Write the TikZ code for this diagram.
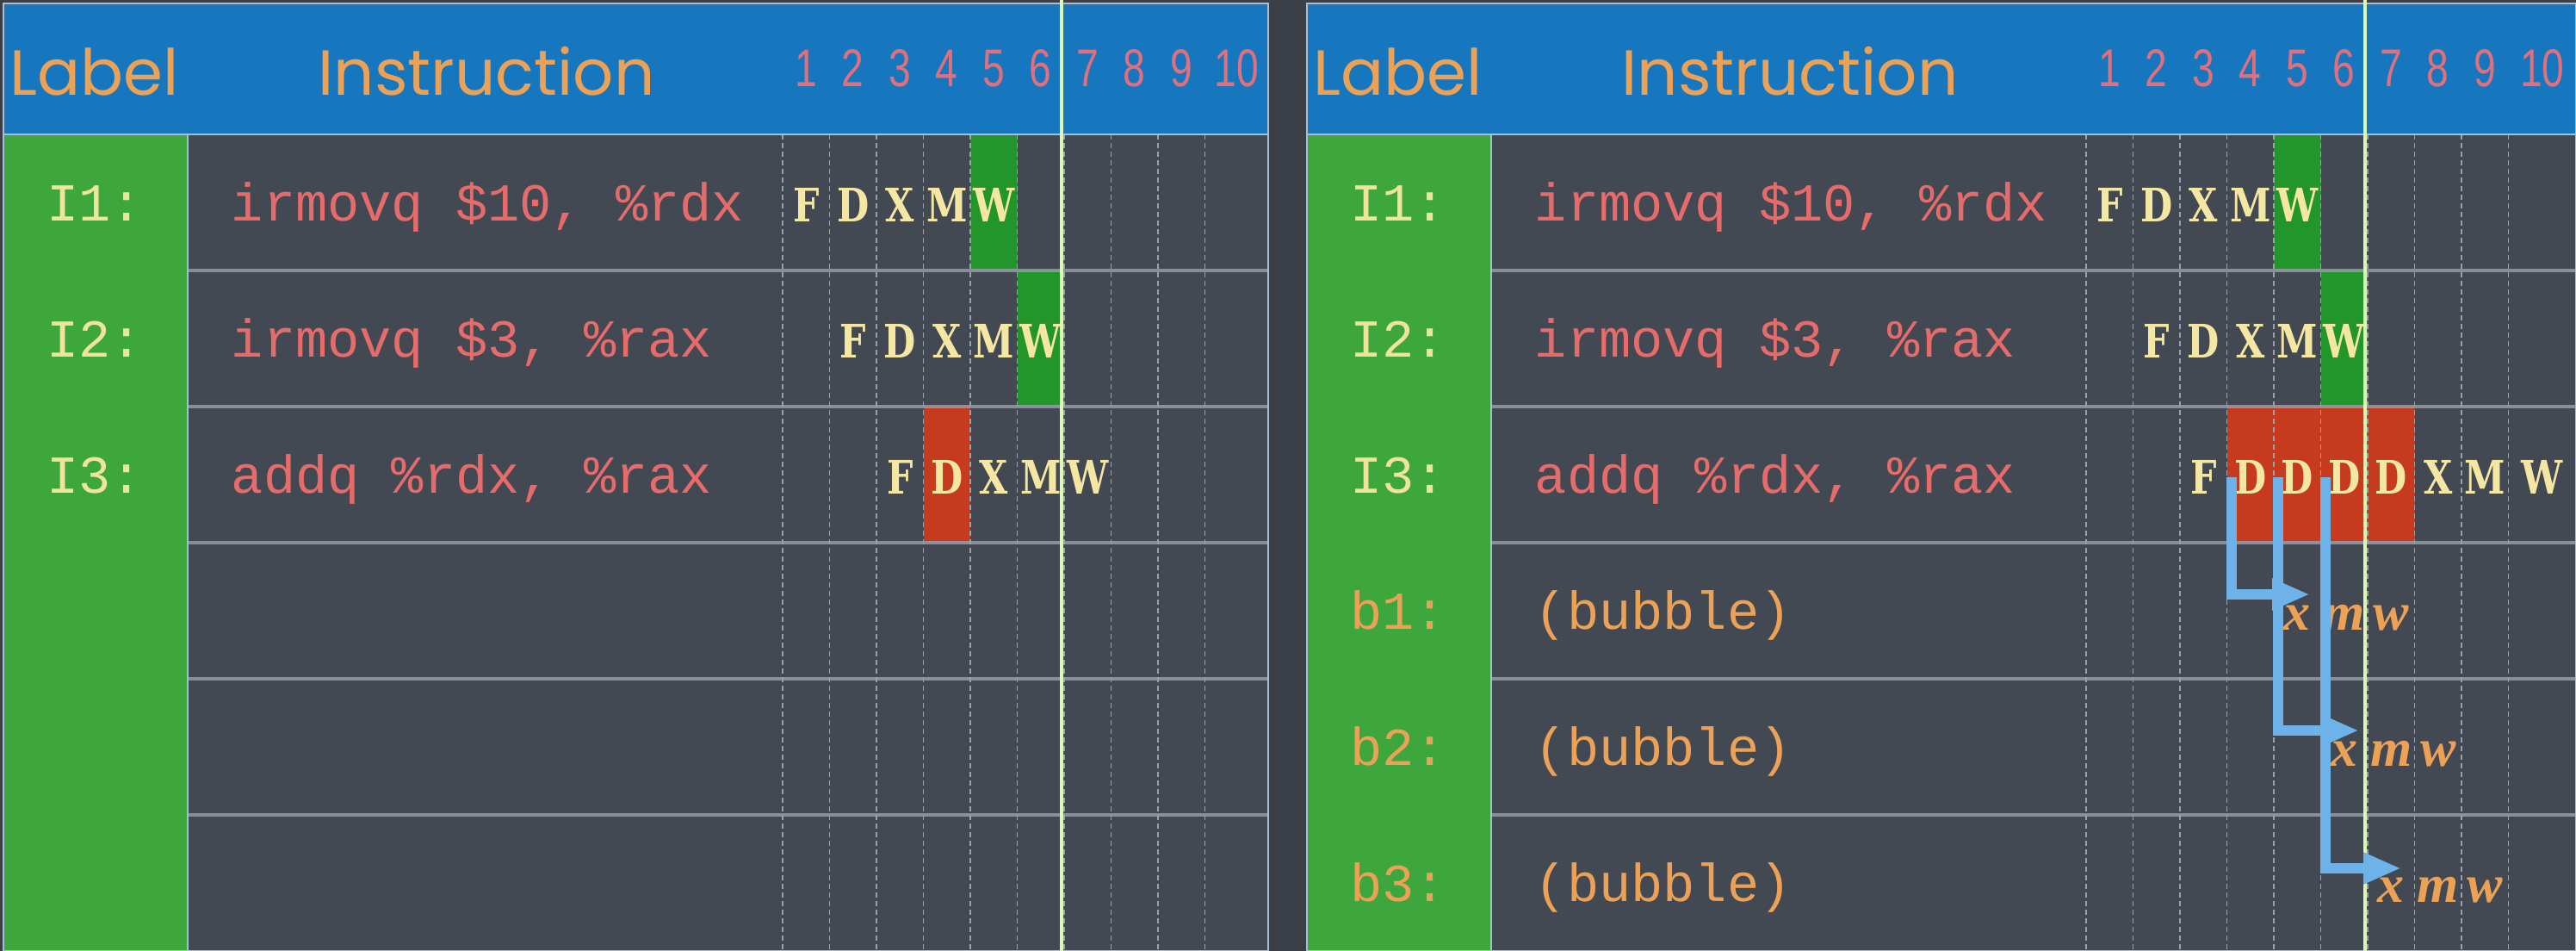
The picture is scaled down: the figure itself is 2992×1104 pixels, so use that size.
\documentclass[tikz,border=0pt]{standalone}
\usepackage{fontspec}
\setmainfont{Liberation Serif}
\newfontfamily\headfont{Poppins}
\newfontfamily\numfont[FakeStretch=0.75]{Liberation Sans}
\newfontfamily\stagefont[FakeStretch=0.8]{DejaVu Serif}
\newfontfamily\codefont{Liberation Mono}
\usetikzlibrary{arrows.meta,positioning}

\definecolor{backdrop}{HTML}{3A3F48}
\definecolor{boardgray}{HTML}{434953}
\definecolor{headblue}{HTML}{1676BE}
\definecolor{labelgreen}{HTML}{3DA63C}
\definecolor{wgreen}{HTML}{22962A}
\definecolor{dred}{HTML}{C63A1E}
\definecolor{flowblue}{HTML}{6DB3EA}
\definecolor{stageyellow}{HTML}{F4E6A3}
\definecolor{codered}{HTML}{E66B6B}
\definecolor{headorange}{HTML}{EBA257}
\definecolor{bubbleorange}{HTML}{EBA257}
\definecolor{numpink}{HTML}{E0707E}
\definecolor{tagyellow}{HTML}{EFE49A}
\definecolor{nowgreen}{HTML}{DDF7B4}
\definecolor{gridgray}{HTML}{9BA1AA}
\definecolor{rimblue}{HTML}{A9BED2}

\tikzset{
  rowline/.style={draw=gridgray, line width=0.9pt, opacity=0.8},
  colline/.style={draw=gridgray, line width=0.45pt, dash pattern=on 1.5pt off 1pt},
  panelrim/.style={draw=rimblue, line width=0.6pt},
  nowline/.style={draw=nowgreen, line width=1.2pt},
  headtext/.style={text=headorange, inner sep=0pt, font=\headfont\fontsize{18.5}{20}\selectfont, text height=13pt, text depth=0pt},
  cyclenum/.style={text=numpink, inner sep=0pt, font=\numfont\fontsize{15.4}{17}\selectfont, text height=11pt, text depth=0pt},
  labeltext/.style={text=tagyellow, inner sep=0pt, font=\codefont\fontsize{15.5}{17}\selectfont, text height=8.6pt, text depth=0pt},
  instrtext/.style={text=codered, anchor=west, inner sep=0pt, font=\codefont\fontsize{15.5}{17}\selectfont, text height=8.6pt, text depth=0pt},
  stagetext/.style={text=stageyellow, inner sep=0pt, minimum width=13.625pt, font=\stagefont\bfseries\fontsize{13.4}{15}\selectfont, text height=9.8pt, text depth=0pt},
  latetext/.style={text=bubbleorange, inner sep=0pt, font=\bfseries\itshape\fontsize{15.5}{17}\selectfont, text height=7.1pt, text depth=0pt},
  flowarrow/.style={draw=flowblue, line width=2.9pt, -{Triangle[length=11pt,width=8.5pt]}}
}

\begin{document}
\begin{tikzpicture}[x=0.25pt,y=-0.25pt]
\useasboundingbox[fill=backdrop] (0,0) rectangle (2992,1104);

% the two tables
\foreach \p/\s/\e/\ra/\rb in {l/0/1473/4/4, r/1514/1478/4/7} {
\begin{scope}[shift={(\s,0)}]
\fill[boardgray] (4,4) rectangle (\e,1104);
\fill[headblue] (4,4) rectangle (\e,156);
\fill[labelgreen] (4,156) rectangle (218,1104);
% highlighted cells
\fill[wgreen] (1127,156) rectangle (1181.5,314);
\fill[wgreen] (1181.5,314) rectangle (1236,472);
\fill[dred] ({909+54.5*(\ra-1)},472) rectangle ({909+54.5*\rb},630);
% grid
\foreach \y in {314,472,630,788,946}
  \draw[rowline] (218,\y) -- (\e,\y);
\foreach \k in {0,...,9}
  \draw[colline] ({909+54.5*\k},156) -- ({909+54.5*\k},1104);
\draw[panelrim] (218,156) -- (218,1104);
\draw[panelrim] (4,156) -- (\e,156);
\draw[panelrim] (4,4) rectangle (\e,1104);
\draw[nowline] (1233,0) -- (1233,1104);
% header
\node[headtext] (\p-label) at (110,84) {Label};
\node[headtext] (\p-instr) at (565,84) {Instruction};
\foreach \k in {1,...,9}
  \node[cyclenum] (\p-n\k) at ({881.75+54.5*\k},78) {\k};
\node[cyclenum] (\p-n10) at ({(1399.5+\e)/2},78) {10};
% instructions
\node[labeltext] (\p-I1) at (110,239) {I1:};
\node[labeltext] (\p-I2) at (110,397) {I2:};
\node[labeltext] (\p-I3) at (110,555) {I3:};
\node[instrtext] (\p-c1) at (268,239) {irmovq \$10, \%rdx};
\node[instrtext] (\p-c2) at (268,397) {irmovq \$3, \%rax};
\node[instrtext] (\p-c3) at (268,555) {addq \%rdx, \%rax};
\foreach \k/\st in {1/F,2/D,3/X,4/M,5/W}
  \node[stagetext] (\p-a\k) at ({881.75+54.5*\k},238) {\st};
\foreach \k/\st in {2/F,3/D,4/X,5/M,6/W}
  \node[stagetext] (\p-b\k) at ({881.75+54.5*\k},396) {\st};
\end{scope}
}

% left: no stall
\foreach \k/\st in {3/F,4/D,5/X,6/M,7/W}
  \node[stagetext] (l-c\k) at ({881.75+54.5*\k},554) {\st};

% right: stalled with bubbles
\begin{scope}[shift={(1514,0)}]
\foreach \k/\st in {3/F,4/D,5/D,6/D,7/D,8/X,9/M}
  \node[stagetext] (r-c\k) at ({881.75+54.5*\k},554) {\st};
\node[stagetext] (r-c10) at (1438.75,554) {W};
\foreach \i/\y in {1/713,2/871,3/1029} {
  \node[labeltext,text=bubbleorange] (r-bl\i) at (110,\y) {b\i:};
  \node[instrtext,text=bubbleorange] (r-bc\i) at (268,\y) {(bubble)};
}
\foreach \i/\k/\y in {1/5/717,2/6/875,3/7/1033}
  \foreach \j/\st in {0/x,1/m,2/w}
    \node[latetext] (r-s\i\j) at ({881.75+54.5*(\k+\j)},\y) {\st};
\coordinate (r-t1) at (1169,690);
\coordinate (r-t2) at (1226,848);
\coordinate (r-t3) at (1275,1008);
\draw[flowarrow] ([xshift=1.5pt]r-c4.west) |- (r-t1);
\draw[flowarrow] ([xshift=1.5pt]r-c5.west) |- (r-t2);
\draw[flowarrow] ([xshift=1.5pt]r-c6.west) |- (r-t3);
\end{scope}

\end{tikzpicture}
\end{document}
